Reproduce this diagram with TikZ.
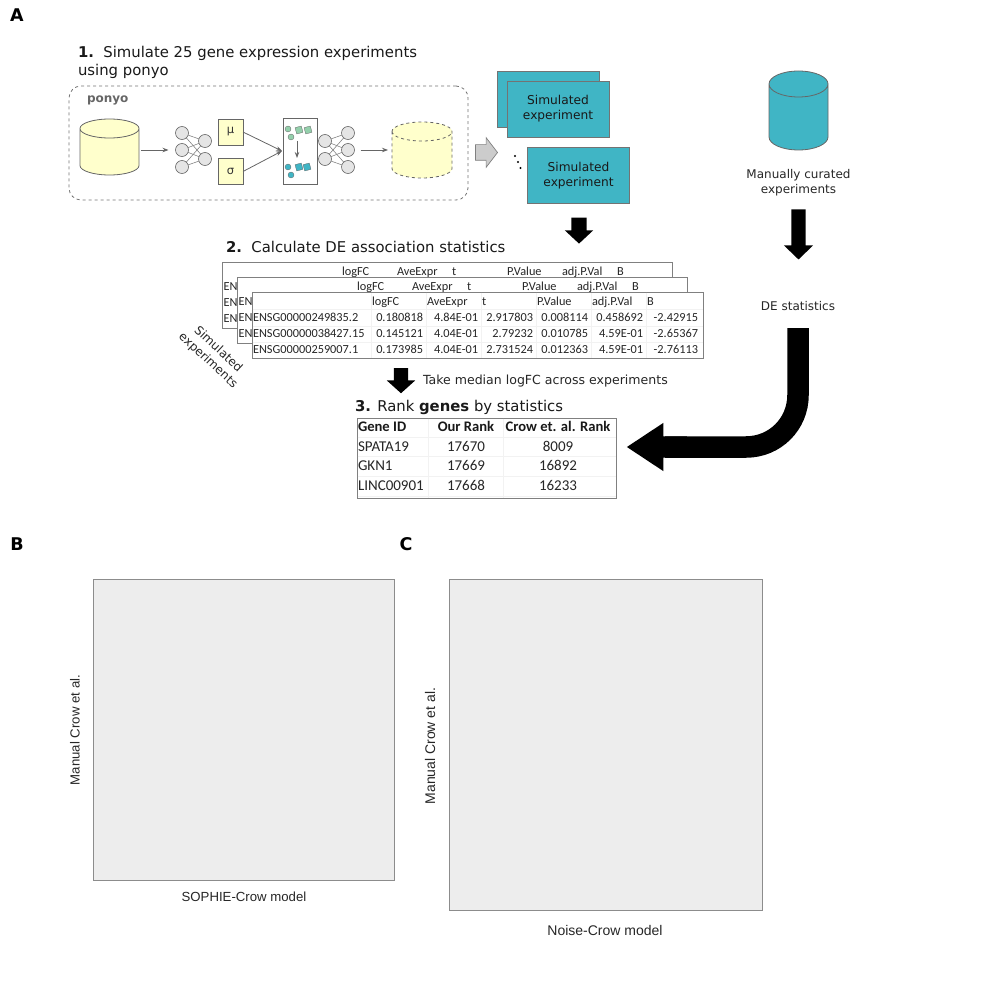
\documentclass[tikz,border=0pt]{standalone}
\usepackage{fontspec}
\setmainfont{DejaVu Sans}
\newfontfamily\tabfont{Carlito}
\newfontfamily\axisfont{Liberation Sans}
\usepackage{xcolor}
\usepackage{tikz}
\usetikzlibrary{arrows,arrows.meta,shapes,shapes.geometric,shapes.arrows,positioning,calc}
\definecolor{dbyellow}{HTML}{FFFFCC}
\definecolor{simteal}{HTML}{40B5C5}
\definecolor{latgreen}{HTML}{93CFAB}
\definecolor{edgegray}{HTML}{666666}
\newcommand{\fs}[1]{\fontsize{#1}{#1}\selectfont}
\newcommand{\dbnode}[7]{
	\node[rectangle,minimum width=2*#4 pt,minimum height=#5 pt](#1) at (#2,#3){};
	\path[database,#7] ([yshift=-#6 pt]#1.north west) -- ([yshift=#6 pt]#1.south west)
		arc[start angle=180,end angle=360,x radius=#4 pt,y radius=#6 pt]
		-- ([yshift=-#6 pt]#1.north east)
		arc[start angle=0,end angle=180,x radius=#4 pt,y radius=#6 pt] -- cycle
		([yshift=-#6 pt]#1.north west)
		arc[start angle=180,end angle=360,x radius=#4 pt,y radius=#6 pt];
}
\begin{document}
\begin{tikzpicture}[x=1pt,y=-1pt,inner sep=0pt,outer sep=0pt,>={Stealth[length=6pt,width=4.5pt]}]
	\tikzstyle{panelletter}=[font=\bfseries\fs{17.5}]
	\tikzstyle{heading}=[font=\fs{14.85},text=black!90,anchor=west]
	\tikzstyle{caption}=[font=\fs{12},text=black!85,align=center]
	\tikzstyle{database}=[draw=edgegray,line width=0.8pt]
	\tikzstyle{neuron}=[circle,minimum size=13pt,fill=black!10,draw=edgegray,line width=0.6pt]
	\tikzstyle{latentbox}=[rectangle,fill=dbyellow,draw=edgegray,line width=0.9pt,font=\fs{11.5},text=black!80]
	\tikzstyle{expbox}=[rectangle,fill=simteal,draw=black!55,line width=0.9pt,minimum width=102pt,minimum height=56pt,font=\fs{12.2},align=center,text=black!90]
	\tikzstyle{netedge}=[draw=edgegray!80,line width=0.6pt]
	\tikzstyle{flow}=[->,draw=edgegray,line width=0.8pt]
	\tikzstyle{fatarrow}=[single arrow,fill=black,inner xsep=0pt]
	\tikzstyle{tablebox}=[rectangle,fill=white,draw=black!50,line width=0.9pt]
	\tikzstyle{cell}=[font=\tabfont\fs{12.3},text=black!85]
	\tikzstyle{rankcell}=[font=\tabfont\fs{15},text=black!85]
	\tikzstyle{rankhead}=[font=\tabfont\bfseries\fs{14.6},text=black!90]
	\tikzstyle{gridline}=[draw=black!5,line width=0.6pt]
	\tikzstyle{scatterbox}=[rectangle,fill=black!7,draw=black!45,line width=0.9pt]
	\tikzstyle{axislabel}=[font=\axisfont\fs{13.2},text=black!85]

	\useasboundingbox (0,0) rectangle (1000,1000);

	\node[panelletter](panelA) at (17,15){A};
	\node[panelletter](panelB) at (17,544){B};
	\node[panelletter](panelC) at (406,544){C};

	\node[heading,align=left,anchor=north west](step1) at (78,46){{\bfseries 1.}\ \ Simulate 25 gene expression experiments\\[3pt]using ponyo};

	\node[rectangle,draw=black!55,dashed,rounded corners=12pt,line width=0.8pt,minimum width=399pt,minimum height=114pt](ponyobox) at (268.5,143){};
	\node[font=\bfseries\fs{12},text=black!60,anchor=west](ponyolabel) at (87,100){ponyo};

	\dbnode{dbin}{109.5}{147}{29.5}{56}{9.5}{fill=dbyellow}
	\dbnode{dbout}{422}{150}{30}{56}{9.5}{fill=dbyellow,dashed}

	\foreach \n/\y in {1/133,2/150,3/167}
		\node[neuron](enc\n) at (182,\y){};
	\foreach \n/\y in {1/141,2/159}
		\node[neuron](encb\n) at (205,\y){};
	\foreach \n/\y in {1/141,2/159}
		\node[neuron](decb\n) at (325,\y){};
	\foreach \n/\y in {1/133,2/150,3/167}
		\node[neuron](dec\n) at (348,\y){};
	\foreach \a in {1,2,3}
		\foreach \b in {1,2}{
			\path[netedge] (enc\a) -- (encb\b);
			\path[netedge] (decb\b) -- (dec\a);
		}

	\node[latentbox,minimum width=25pt,minimum height=26pt](mu) at (230.5,132){µ};
	\node[latentbox,minimum width=25pt,minimum height=26pt](sigma) at (230.5,171.5){σ};
	\node[rectangle,fill=white,draw=edgegray,line width=0.9pt,minimum width=34pt,minimum height=66pt](latent) at (300,151){};

	\foreach \n/\x/\y in {1/288/129,2/291/137}
		\node[circle,minimum size=6pt,fill=latgreen,draw=edgegray,line width=0.3pt](gc\n) at (\x,\y){};
	\foreach \n/\x/\y in {1/299/130,2/308/130}
		\node[rectangle,rotate=15,minimum size=6.5pt,fill=latgreen,draw=edgegray,line width=0.3pt](gs\n) at (\x,\y){};
	\foreach \n/\x/\y in {1/288/167,2/291/175}
		\node[circle,minimum size=6pt,fill=simteal,draw=edgegray,line width=0.3pt](tc\n) at (\x,\y){};
	\foreach \n/\x/\y in {1/299/167,2/307/167}
		\node[rectangle,rotate=15,minimum size=6.5pt,fill=simteal,draw=edgegray,line width=0.3pt](ts\n) at (\x,\y){};
	\coordinate (lattop) at (297,141);
	\coordinate (latbot) at (297,158);
	\coordinate (latin) at (282,151);

	\path[flow,shorten <=2pt,shorten >=7pt] (dbin.east |- enc2) -- (enc2);
	\path[flow,shorten <=6pt,shorten >=4pt] (dec2) -- (dbout.west |- dec2);
	\path[flow] (mu.east) -- (latin);
	\path[flow] (sigma.east) -- (latin);
	\path[flow] (lattop) -- (latbot);

	\node[fatarrow,fill=black!20,draw=black!50,line width=0.7pt,inner ysep=7.5pt,single arrow head extend=7pt,single arrow tip angle=105,minimum height=22pt](grayarrow) at (483.5,152.5){};

	\node[expbox](sim1) at (548,99.5){};
	\node[expbox](sim2) at (558,109){Simulated\\[2.6pt]experiment};
	\node[expbox](sim3) at (578.5,175.5){Simulated\\[2.6pt]experiment};
	\foreach \n/\x/\y in {1/515/156,2/518/162,3/520.5/168}
		\node[circle,fill=black,minimum size=2.2pt](dot\n) at (\x,\y){};

	\node[fatarrow,inner ysep=7.5pt,single arrow head extend=6.5pt,single arrow tip angle=94,minimum height=26pt,rotate=-90](downsim) at (579,227){};

	\dbnode{dbcurated}{798.5}{110.5}{29.5}{79}{13}{fill=simteal}
	\node[caption](curatedlabel) at (798.5,183){Manually curated\\[3pt]experiments};
	\node[fatarrow,inner ysep=7pt,single arrow head extend=7.5pt,single arrow tip angle=92,minimum height=50pt,rotate=-90](downcur) at (798.5,231){};
	\node[caption](destats) at (798,306){DE statistics};

	\node[heading](step2) at (226,247){{\bfseries 2.}\ \ Calculate DE association statistics};

	\foreach \t/\dx/\dy in {a/0/0,b/15/15}{
		\node[tablebox,minimum width=450pt,minimum height=66pt,anchor=north west](tab\t) at (222+\dx,262+\dy){};
		\foreach \i/\x/\lbl in {1/342/logFC,2/397/AveExpr,3/452/t,4/507/P.Value,5/562/adj.P.Val,6/617/B}
			\node[cell,anchor=mid west](h\t\i) at (\x+\dx,273+\dy){\lbl};
		\foreach \i/\y in {1/288,2/304,3/320}
			\node[cell,anchor=mid west](en\t\i) at (223.5+\dx,\y+\dy){EN};
	}
	\node[tablebox,minimum width=451pt,minimum height=66pt,anchor=north west](tabc) at (252,292){};
	\foreach \y in {309,326,342}
		\path[gridline] (252.5,\y) -- (702.5,\y);
	\foreach \x in {371,426,481,536,591,646}
		\path[gridline] (\x,292.5) -- (\x,357.5);
	\foreach \i/\x/\lbl in {1/372/logFC,2/427/AveExpr,3/482/t,4/537/P.Value,5/592/adj.P.Val,6/647/B}
		\node[cell,anchor=mid west](hc\i) at (\x,303){\lbl};
	\foreach \r/\y/\g/\a/\b/\c/\d/\e/\f in {
		1/319/ENSG00000249835.2/0.180818/4.84E-01/2.917803/0.008114/0.458692/-2.42915,
		2/335/ENSG00000038427.15/0.145121/4.04E-01/2.79232/0.010785/4.59E-01/-2.65367,
		3/351/ENSG00000259007.1/0.173985/4.04E-01/2.731524/0.012363/4.59E-01/-2.76113}{
		\node[cell,anchor=mid west](gene\r) at (253,\y){\g};
		\node[cell,anchor=mid east](va\r) at (423,\y){\a};
		\node[cell,anchor=mid east](vb\r) at (478,\y){\b};
		\node[cell,anchor=mid east](vc\r) at (533,\y){\c};
		\node[cell,anchor=mid east](vd\r) at (588,\y){\d};
		\node[cell,anchor=mid east](ve\r) at (643,\y){\e};
		\node[cell,anchor=mid east](vf\r) at (698,\y){\f};
	}

	\node[caption,rotate=-43](simrot) at (213,355){Simulated\\[3pt]experiments};

	\node[fatarrow,inner ysep=7pt,single arrow head extend=7pt,single arrow tip angle=96,minimum height=25pt,rotate=-90](downtab) at (401,377.5){};
	\node[caption,anchor=west,font=\fs{12.55}](medianlabel) at (423,381){Take median logFC across experiments};

	\node[heading](step3) at (355,407.5){{\bfseries 3.} Rank {\bfseries genes} by statistics};

	\node[tablebox,minimum width=259pt,minimum height=80pt,anchor=north west](ranktab) at (357,418){};
	\foreach \y in {437,456,476,496}
		\path[gridline] (357.5,\y) -- (615.5,\y);
	\foreach \x in {428,503}
		\path[gridline] (\x,418.5) -- (\x,497.5);
	\node[rankhead,anchor=mid west](rh1) at (358,428.5){Gene ID};
	\node[rankhead,anchor=mid](rh2) at (466,428.5){Our Rank};
	\node[rankhead,anchor=mid](rh3) at (558,428.5){Crow et. al. Rank};
	\foreach \r/\y/\g/\o/\c in {1/448.5/SPATA19/17670/8009,2/467.5/GKN1/17669/16892,3/487.5/LINC00901/17668/16233}{
		\node[rankcell,anchor=mid west](rg\r) at (358,\y){\g};
		\node[rankcell,anchor=mid](ro\r) at (466,\y){\o};
		\node[rankcell,anchor=mid](rc\r) at (558,\y){\c};
	}

	\node[fatarrow,inner ysep=10.5pt,single arrow head extend=13.5pt,single arrow tip angle=67,minimum height=60pt,rotate=180](headrank) at (665,447){};
	\coordinate (curvetop) at (798,328);
	\path[draw=black,line width=21.5pt] (curvetop) -- (798,395) .. controls (798,424) and (775,447) .. (746,447) -- (headrank.center);

	\node[scatterbox,minimum width=301.5pt,minimum height=301pt,anchor=north west](plotB) at (93,579){};
	\node[scatterbox,minimum width=312.5pt,minimum height=331pt,anchor=north west](plotC) at (449.5,579){};
	\node[axislabel,rotate=90](ylabB) at (75,730){Manual Crow et al.};
	\node[axislabel,rotate=90,font=\axisfont\fs{14}](ylabC) at (430,746){Manual Crow et al.};
	\node[axislabel](xlabB) at (244,897){SOPHIE-Crow model};
	\node[axislabel,font=\axisfont\fs{14}](xlabC) at (605,930){Noise-Crow model};
\end{tikzpicture}
\end{document}
